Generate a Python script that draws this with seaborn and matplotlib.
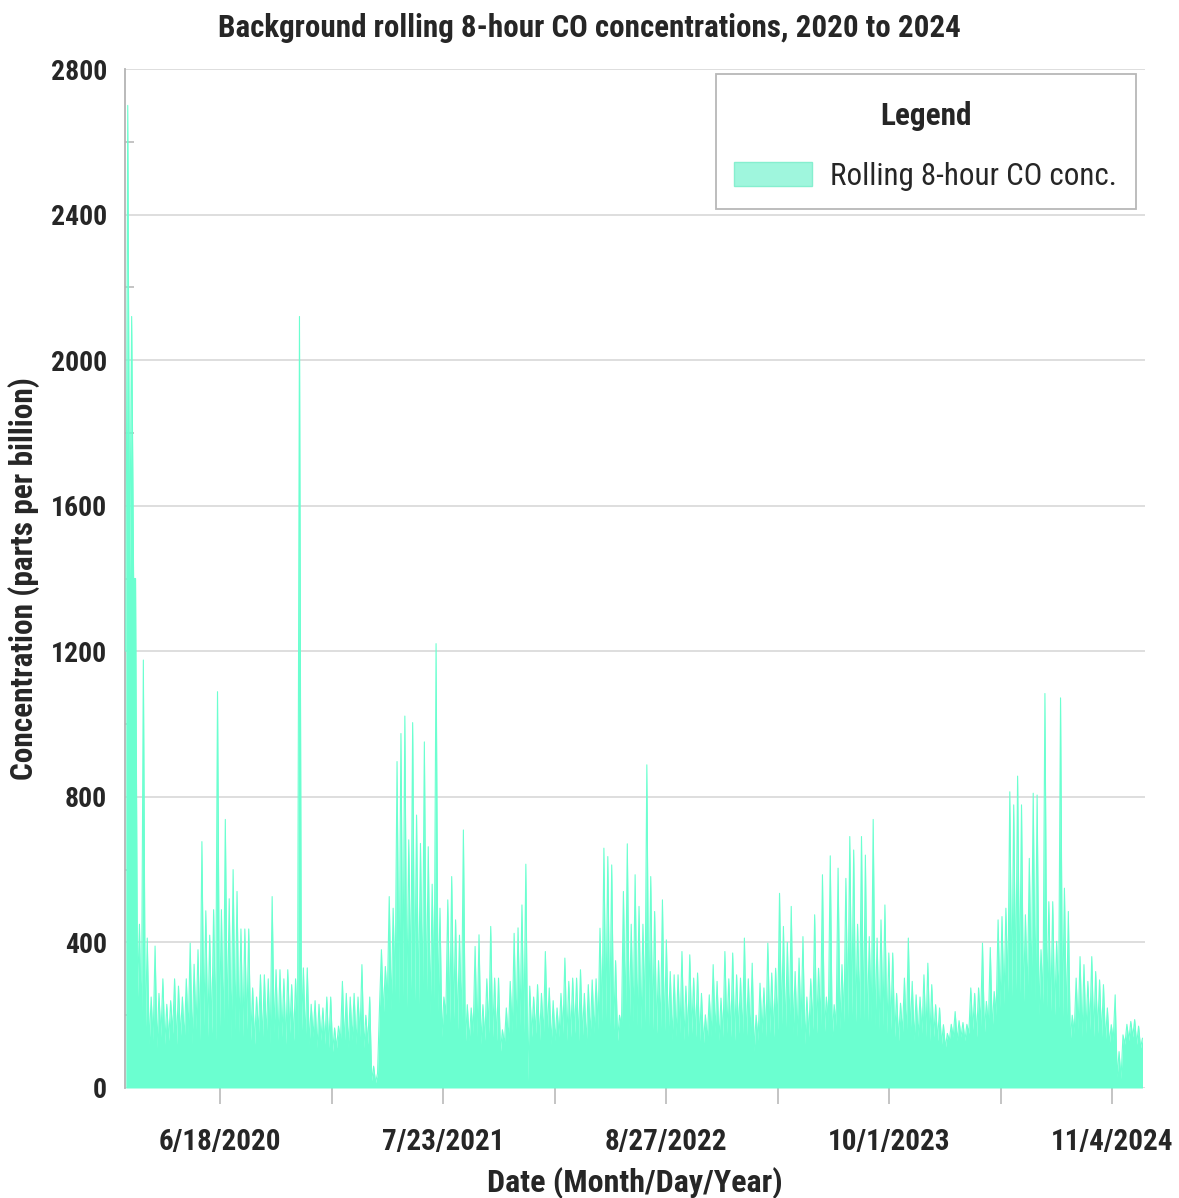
import numpy as np
import pandas as pd
import matplotlib
matplotlib.use("Agg")
import matplotlib.pyplot as plt
from matplotlib.patches import Patch
from matplotlib.ticker import MultipleLocator
from matplotlib.offsetbox import PaddedBox
from matplotlib import font_manager
import seaborn as sns

# Weekly maxima of the rolling 8-hour CO series (ppb), one per week from 2020-01-01
peaks = [
    2700, 2120, 1400, 450, 1176, 412, 250, 390, 260, 300,
    230, 240, 300, 280, 250, 300, 398, 340, 380, 677,
    487, 420, 490, 1089, 490, 738, 520, 600, 540, 437,
    437, 437, 275, 250, 311, 311, 300, 526, 325, 325,
    300, 325, 284, 300, 2120, 330, 330, 230, 240, 230,
    220, 250, 250, 165, 170, 293, 260, 250, 260, 250,
    339, 200, 250, 60, 40, 380, 334, 526, 494, 897,
    974, 1022, 682, 1004, 750, 672, 951, 663, 560, 1221,
    494, 250, 517, 581, 462, 420, 709, 229, 220, 389,
    421, 229, 300, 444, 302, 302, 160, 220, 293, 425,
    440, 503, 615, 280, 250, 284, 260, 375, 275, 240,
    220, 260, 357, 293, 302, 302, 325, 260, 284, 297,
    300, 439, 659, 636, 613, 350, 200, 540, 671, 450,
    586, 499, 450, 888, 581, 485, 350, 517, 407, 320,
    311, 311, 375, 280, 366, 302, 316, 260, 201, 256,
    339, 293, 247, 375, 300, 371, 311, 302, 412, 300,
    343, 200, 288, 275, 398, 316, 329, 535, 444, 400,
    499, 320, 357, 416, 250, 300, 476, 329, 586, 250,
    638, 229, 604, 339, 576, 691, 654, 450, 691, 640,
    416, 738, 412, 462, 503, 371, 371, 260, 233, 302,
    412, 293, 256, 250, 311, 343, 284, 229, 220, 174,
    150, 175, 210, 185, 180, 175, 275, 260, 275, 398,
    238, 386, 265, 462, 471, 494, 814, 778, 857, 778,
    476, 631, 810, 805, 380, 1084, 512, 512, 403, 1072,
    549, 485, 200, 302, 361, 339, 293, 361, 320, 297,
    284, 220, 174, 256, 100, 146, 175, 183, 188, 170,
    137,
]

# Weekly minima of the same series (ppb)
lows = [
    1200, 1400, 1400, 250, 150, 140, 120, 130, 110, 140,
    120, 130, 150, 120, 140, 130, 150, 120, 160, 130,
    170, 140, 150, 130, 160, 140, 170, 130, 160, 150,
    140, 160, 130, 120, 150, 130, 140, 120, 150, 130,
    140, 120, 150, 130, 140, 150, 130, 120, 140, 110,
    130, 120, 110, 100, 110, 130, 120, 110, 130, 120,
    140, 110, 120, 20, 15, 220, 200, 240, 210, 260,
    230, 250, 220, 270, 240, 230, 250, 220, 200, 240,
    210, 140, 200, 180, 190, 160, 170, 120, 130, 150,
    140, 120, 130, 150, 140, 130, 100, 120, 130, 150,
    160, 170, 150, 20, 140, 150, 130, 140, 150, 120,
    130, 140, 150, 130, 140, 150, 130, 140, 120, 140,
    150, 160, 180, 190, 170, 160, 130, 170, 190, 160,
    180, 170, 160, 180, 170, 160, 150, 160, 140, 150,
    130, 140, 150, 130, 140, 150, 140, 130, 120, 130,
    140, 150, 130, 140, 150, 140, 130, 150, 140, 130,
    140, 100, 130, 150, 140, 150, 140, 160, 170, 150,
    160, 150, 140, 160, 120, 140, 160, 150, 170, 150,
    180, 140, 170, 160, 180, 190, 200, 180, 190, 170,
    160, 180, 170, 160, 170, 150, 160, 140, 130, 150,
    140, 150, 130, 140, 150, 140, 130, 140, 130, 120,
    110, 130, 140, 130, 140, 130, 150, 160, 140, 170,
    150, 170, 160, 200, 220, 230, 260, 250, 270, 260,
    230, 250, 260, 240, 200, 230, 220, 210, 200, 220,
    190, 180, 130, 150, 160, 140, 150, 160, 140, 150,
    140, 130, 120, 130, 30, 25, 120, 130, 140, 120,
    110,
]

start_date = "2020-01-01"
tick_start = "2020-06-18"
tick_labels = ["6/18/2020", "", "7/23/2021", "", "8/27/2022", "",
               "10/1/2023", "", "11/4/2024"]
y_ticks = [0, 400, 800, 1200, 1600, 2000, 2400, 2800]

title = "Background rolling 8-hour CO concentrations, 2020 to 2024"
x_label = "Date (Month/Day/Year)"
y_label = "Concentration (parts per billion)"
series_label = "Rolling 8-hour CO conc."

fill_color = "#6BFFD0"
grid_color = "#d4d4d4"
axis_color = "#b4b4b4"

sns.set_theme(style="white")
installed = {f.name for f in font_manager.fontManager.ttflist}
family = next((n for n in ["Roboto Condensed", "Liberation Sans Narrow", "DejaVu Sans"]
               if n in installed), "DejaVu Sans")
plt.rcParams["font.family"] = [family, "DejaVu Sans"]

# interleave weekly lows (week start) and peaks (mid-week)
week_start = pd.date_range(start_date, periods=len(peaks), freq="7D")
times = np.empty(2 * len(peaks), dtype="datetime64[ns]")
times[0::2] = week_start.values
times[1::2] = (week_start + pd.Timedelta(hours=84)).values
values = np.empty(2 * len(peaks))
values[0::2] = lows
values[1::2] = peaks
df = pd.DataFrame({"date": pd.to_datetime(times), "conc": values})

fig = plt.figure(figsize=(11.79, 11.98), dpi=100)
ax = fig.add_axes([125 / 1179, 1 - 1088 / 1198, 1020 / 1179, 1019 / 1198])

ax.fill_between(df["date"], 0, df["conc"], color=fill_color, lw=0, zorder=2)
sns.lineplot(data=df, x="date", y="conc", ax=ax, color=fill_color, lw=0.8, zorder=3)

ax.set_xlim(pd.Timestamp("2019-12-30 14:00"), pd.Timestamp("2025-01-02"))
ax.set_ylim(0, 2800)

xt = pd.date_range(tick_start, periods=len(tick_labels), freq="200D")
ax.set_xticks(xt)
ax.set_xticklabels(tick_labels)
ax.set_yticks(y_ticks)
ax.set_yticklabels([str(v) for v in y_ticks])
ax.yaxis.set_minor_locator(MultipleLocator(200))

ax.grid(axis="y", which="major", color=grid_color, lw=1.1)
ax.set_axisbelow(True)
for side in ["top", "right", "bottom"]:
    ax.spines[side].set_visible(False)
ax.spines["left"].set_color(axis_color)
ax.spines["left"].set_linewidth(1.3)

ax.tick_params(axis="x", which="major", direction="out", length=11.5, width=1.1,
               color=axis_color, pad=17, labelsize=21, bottom=True)
ax.tick_params(axis="y", which="major", length=0, pad=13, labelsize=20, left=True)
ax.tick_params(axis="y", which="minor", direction="in", length=6.5, width=1.1,
               color=axis_color, left=True)
for lab in ax.get_xticklabels() + ax.get_yticklabels():
    lab.set_fontweight("bold")

ax.set_xlabel(x_label, fontsize=23, fontweight="bold", labelpad=8)
ax.set_ylabel(y_label, fontsize=22.5, fontweight="bold", labelpad=8)

fig.text(0.5, 1 - 28 / 1198, title, ha="center", va="center",
         fontsize=22.3, fontweight="bold")

handle = Patch(facecolor="#9ff6dd", edgecolor="#86efcf", lw=1)
leg = ax.legend(handles=[handle], labels=[series_label], title="Legend",
                loc="upper right", bbox_to_anchor=(0.991, 0.995), borderaxespad=0,
                fontsize=22.3, title_fontproperties={"weight": "bold", "size": 22.5},
                frameon=True, fancybox=False, framealpha=1, edgecolor="#b8b8b8",
                handlelength=2.5, handleheight=0.85, handletextpad=0.6,
                borderpad=0.6, labelspacing=0.5)
leg.get_frame().set_linewidth(1.3)
# extra room above and below the legend title
legend_children = leg._legend_box.get_children()
legend_children[0] = PaddedBox(legend_children[0], pad=6.0, draw_frame=False)
leg._legend_box.sep = 16

fig.savefig("out.png", dpi=100)
